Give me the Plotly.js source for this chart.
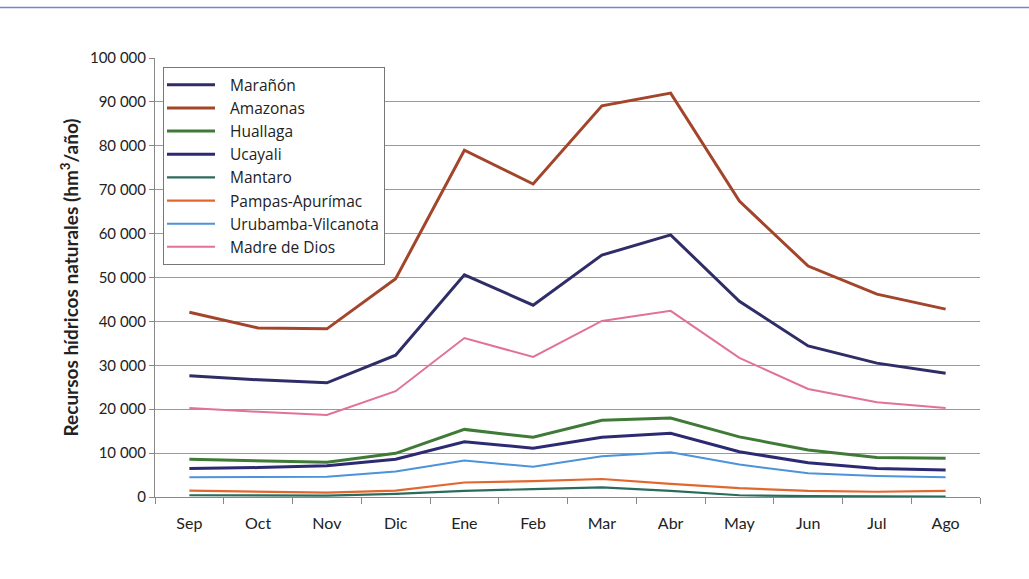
<!DOCTYPE html>
<html><head><meta charset="utf-8">
<script src="https://cdn.plot.ly/plotly-3.0.1.min.js"></script>
<style>html,body{margin:0;padding:0;background:#fff}#chart{width:1029px;height:579px}</style>
</head><body><div id="chart"></div>
<script>
const months = ["Sep","Oct","Nov","Dic","Ene","Feb","Mar","Abr","May","Jun","Jul","Ago"];
const maranon   = [27600,26700,26000,32300,50600,43700,55100,59700,44600,34400,30500,28200];
const amazonas  = [42100,38500,38300,49700,79000,71300,89100,92000,67400,52600,46200,42800];
const huallaga  = [8600,8200,7900,9950,15400,13600,17500,18000,13700,10700,9000,8800];
const ucayali   = [6500,6700,7100,8600,12600,11100,13600,14500,10300,7800,6500,6150];
const mantaro   = [400,300,300,700,1400,1800,2200,1400,400,200,100,100];
const pampas    = [1450,1200,1000,1450,3300,3600,4100,3000,2000,1400,1200,1400];
const urubamba  = [4500,4500,4600,5800,8300,6900,9300,10200,7400,5400,4800,4500];
const madre     = [20300,19400,18700,24100,36200,31900,40100,42400,31700,24600,21600,20300];
const names = ["Marañón","Amazonas","Huallaga","Ucayali","Mantaro","Pampas-Apurímac","Urubamba-Vilcanota","Madre de Dios"];
const yTicks = [0,10000,20000,30000,40000,50000,60000,70000,80000,90000,100000];

const series = [maranon, amazonas, huallaga, ucayali, mantaro, pampas, urubamba, madre];
const colors = ["#2f2d68","#a3452b","#3f7b36","#2c2a72","#2b6b5c","#e2672f","#4b93db","#e27199"];
const widths = [3,3,3,3,2.2,2.2,2,2];

const traces = series.map((s,i)=>({
  x: months, y: s, name: names[i], type:"scatter", mode:"lines",
  line:{color:colors[i], width:widths[i]}
}));

const font = "Lato, 'Open Sans', sans-serif";
const lfont = "'Open Sans', Lato, sans-serif";
const layout = {
  width:1029, height:579,
  margin:{l:155, r:49, t:58, b:82},
  paper_bgcolor:"#fff", plot_bgcolor:"#fff",
  separators:", ",
  showlegend:true,
  font:{family:font, size:15, color:"#222"},
  xaxis:{type:"category", range:[-0.5,11.5], tickson:"boundaries", ticks:"outside", ticklen:6,
    tickcolor:"#888", showgrid:false, showline:true, linecolor:"#888", linewidth:1,
    ticklabelstandoff:12,
    tickfont:{family:font, size:16, color:"#222"}, zeroline:false},
  yaxis:{range:[0,100000], tickvals:yTicks, tickformat:",d", ticks:"outside", ticklen:5,
    tickcolor:"#888", showgrid:true, gridcolor:"#9a9a9a", gridwidth:1, showline:true,
    linecolor:"#888", zeroline:false, tickfont:{family:font, size:15, color:"#222"},
    title:{text:"<b>Recursos hídricos naturales (hm<sup>3</sup>/año)</b>", font:{family:font,size:19,color:"#222"}, standoff:6}},
  legend:{x:0.0097, y:0.979, xanchor:"left", yanchor:"top", bgcolor:"#fff", bordercolor:"#777",
    borderwidth:1, font:{family:lfont,size:15.5,color:"#222"}, tracegroupgap:0, itemwidth:56},
  shapes:[{type:"line", xref:"paper", yref:"paper", x0:-0.188, x1:1.06, y0:1.115, y1:1.115,
    line:{color:"#7b7fd6", width:1.5}}]
};
function fixLegend(){
  document.querySelectorAll(".legend .legendlines path").forEach(p=>{
    p.setAttribute("d","M3,0h48");
  });
}
Plotly.newPlot("chart", traces, layout, {displayModeBar:false, staticPlot:true}).then(fixLegend);
</script></body></html>
